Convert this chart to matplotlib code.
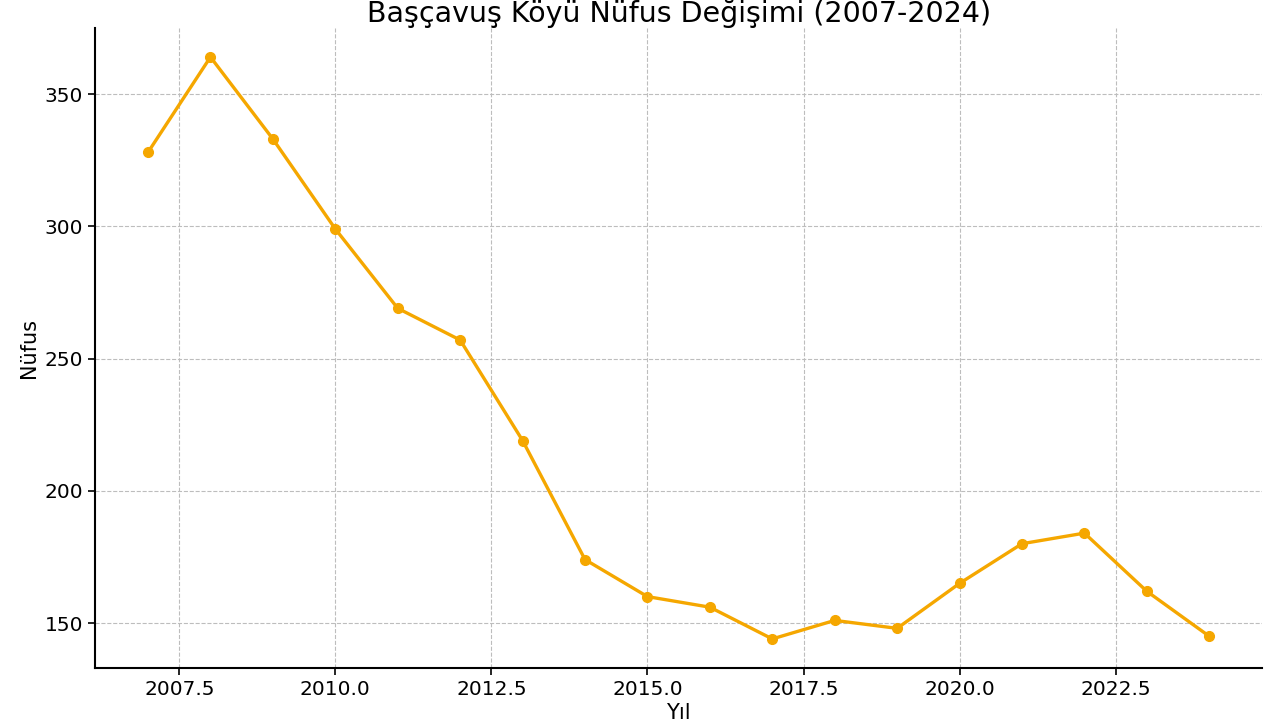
import numpy as np
import matplotlib.pyplot as plt

# data
years = [2007, 2008, 2009, 2010, 2011, 2012, 2013, 2014, 2015,
         2016, 2017, 2018, 2019, 2020, 2021, 2022, 2023, 2024]
nufus = [328, 364, 333, 299, 269, 257, 219, 174, 160,
         156, 144, 151, 148, 165, 180, 184, 162, 145]

fig = plt.figure(figsize=(12.8, 7.2), dpi=100)
ax = fig.add_axes([0.0742, 0.0722, 0.912, 0.889])

ax.plot(years, nufus, color='#F5A700', linewidth=2.4, marker='o', markersize=7)

ax.set_title("Başçavuş Köyü Nüfus Değişimi (2007-2024)", fontsize=20.5, pad=2)
ax.set_xlabel("Yıl", fontsize=15, labelpad=3)
ax.set_ylabel("Nüfus", fontsize=15)
ax.tick_params(labelsize=14.5, width=1.2, length=5)

ax.grid(True, linestyle='--', color='#bdbdbd', linewidth=0.8)
ax.spines['top'].set_visible(False)
ax.spines['right'].set_visible(False)
ax.spines['left'].set_linewidth(1.5)
ax.spines['bottom'].set_linewidth(1.5)

fig.savefig("out.png", dpi=100)
